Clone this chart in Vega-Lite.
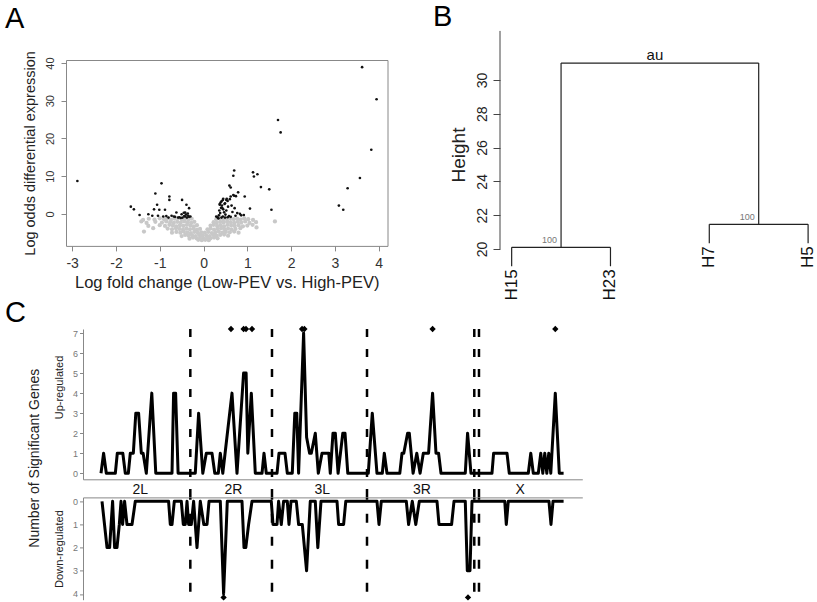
{
"$schema": "https://vega.github.io/schema/vega-lite/v6.json",
"autosize": {"type": "none"},
"padding": {"left": 66, "top": 60, "right": 751, "bottom": 542},
"background": "white",
"config": {"font": "Liberation Sans", "view": {"stroke": null}, "axis": {"grid": false, "titleFontWeight": "normal", "labelFont": "Liberation Sans", "titleFont": "Liberation Sans"}, "title": {"fontWeight": "normal", "font": "Liberation Sans", "color": "black"}},
"datasets": {
"gray": [
{"lfc":-1.38,"lod":-1.6},{"lfc":-1.25,"lod":-1.3},{"lfc":-1.12,"lod":-1.5},{"lfc":-1.0,"lod":-1.2},{"lfc":-0.9,"lod":-1.4},{"lfc":-0.82,"lod":-1.2},{"lfc":-0.74,"lod":-1.5},{"lfc":-0.66,"lod":-1.3},{"lfc":-0.58,"lod":-1.2},{"lfc":-0.5,"lod":-1.4},{"lfc":-0.42,"lod":-1.3},{"lfc":-0.34,"lod":-1.5},{"lfc":-0.27,"lod":-1.3},
{"lfc":0.29,"lod":-1.4},{"lfc":0.37,"lod":-1.2},{"lfc":0.45,"lod":-1.5},{"lfc":0.53,"lod":-1.3},{"lfc":0.61,"lod":-1.2},{"lfc":0.69,"lod":-1.4},{"lfc":0.77,"lod":-1.3},{"lfc":0.85,"lod":-1.5},{"lfc":0.93,"lod":-1.2},{"lfc":1.02,"lod":-1.4},{"lfc":1.13,"lod":-1.6},
{"lfc":-1.3,"lod":-2.4},{"lfc":-1.1,"lod":-2.1},{"lfc":-0.95,"lod":-2.3},{"lfc":-0.85,"lod":-2.0},{"lfc":-0.76,"lod":-2.2},{"lfc":-0.68,"lod":-2.4},{"lfc":-0.6,"lod":-2.1},{"lfc":-0.52,"lod":-2.3},{"lfc":-0.44,"lod":-2.0},{"lfc":-0.36,"lod":-2.2},{"lfc":-0.28,"lod":-2.4},{"lfc":-0.21,"lod":-2.1},
{"lfc":0.23,"lod":-2.2},{"lfc":0.3,"lod":-2.4},{"lfc":0.38,"lod":-2.1},{"lfc":0.46,"lod":-2.3},{"lfc":0.54,"lod":-2.0},{"lfc":0.62,"lod":-2.2},{"lfc":0.7,"lod":-2.4},{"lfc":0.78,"lod":-2.1},{"lfc":0.86,"lod":-2.3},{"lfc":0.95,"lod":-2.0},{"lfc":1.05,"lod":-2.4},{"lfc":1.2,"lod":-2.2},
{"lfc":-1.0,"lod":-3.0},{"lfc":-0.88,"lod":-3.2},{"lfc":-0.78,"lod":-2.9},{"lfc":-0.7,"lod":-3.1},{"lfc":-0.62,"lod":-3.3},{"lfc":-0.54,"lod":-3.0},{"lfc":-0.46,"lod":-3.2},{"lfc":-0.38,"lod":-2.9},{"lfc":-0.3,"lod":-3.1},{"lfc":-0.22,"lod":-3.3},{"lfc":-0.15,"lod":-3.0},
{"lfc":0.16,"lod":-3.1},{"lfc":0.23,"lod":-2.9},{"lfc":0.31,"lod":-3.2},{"lfc":0.39,"lod":-3.0},{"lfc":0.47,"lod":-3.3},{"lfc":0.55,"lod":-2.9},{"lfc":0.63,"lod":-3.1},{"lfc":0.71,"lod":-3.2},{"lfc":0.8,"lod":-3.0},{"lfc":0.9,"lod":-3.3},{"lfc":1.0,"lod":-3.1},
{"lfc":-0.82,"lod":-3.9},{"lfc":-0.72,"lod":-4.1},{"lfc":-0.63,"lod":-3.8},{"lfc":-0.55,"lod":-4.0},{"lfc":-0.47,"lod":-4.2},{"lfc":-0.39,"lod":-3.9},{"lfc":-0.31,"lod":-4.1},{"lfc":-0.23,"lod":-3.9},{"lfc":-0.15,"lod":-4.2},{"lfc":-0.08,"lod":-4.0},
{"lfc":0.09,"lod":-4.1},{"lfc":0.16,"lod":-3.9},{"lfc":0.24,"lod":-4.2},{"lfc":0.32,"lod":-4.0},{"lfc":0.4,"lod":-3.8},{"lfc":0.48,"lod":-4.1},{"lfc":0.56,"lod":-3.9},{"lfc":0.64,"lod":-4.2},{"lfc":0.73,"lod":-4.0},{"lfc":0.84,"lod":-3.8},
{"lfc":-0.72,"lod":-5.0},{"lfc":-0.62,"lod":-4.8},{"lfc":-0.53,"lod":-5.0},{"lfc":-0.45,"lod":-4.7},{"lfc":-0.37,"lod":-4.9},{"lfc":-0.29,"lod":-5.1},{"lfc":-0.21,"lod":-4.8},{"lfc":-0.13,"lod":-5.0},{"lfc":-0.05,"lod":-4.9},
{"lfc":0.03,"lod":-5.0},{"lfc":0.11,"lod":-4.8},{"lfc":0.19,"lod":-5.1},{"lfc":0.27,"lod":-4.9},{"lfc":0.35,"lod":-4.7},{"lfc":0.43,"lod":-5.0},{"lfc":0.51,"lod":-4.8},{"lfc":0.6,"lod":-4.9},{"lfc":0.7,"lod":-4.7},{"lfc":0.8,"lod":-5.0},
{"lfc":-0.5,"lod":-5.9},{"lfc":-0.42,"lod":-5.6},{"lfc":-0.34,"lod":-5.8},{"lfc":-0.26,"lod":-5.7},{"lfc":-0.18,"lod":-5.9},{"lfc":-0.1,"lod":-5.6},{"lfc":-0.02,"lod":-5.8},{"lfc":0.06,"lod":-5.7},{"lfc":0.14,"lod":-5.9},{"lfc":0.22,"lod":-5.6},{"lfc":0.3,"lod":-5.8},{"lfc":0.38,"lod":-5.6},{"lfc":0.47,"lod":-5.5},{"lfc":0.56,"lod":-5.8},
{"lfc":-0.32,"lod":-6.6},{"lfc":-0.24,"lod":-6.3},{"lfc":-0.16,"lod":-6.5},{"lfc":-0.08,"lod":-6.4},{"lfc":0.0,"lod":-6.6},{"lfc":0.08,"lod":-6.4},{"lfc":0.16,"lod":-6.5},{"lfc":0.24,"lod":-6.3},{"lfc":0.32,"lod":-6.5},
{"lfc":-0.12,"lod":-6.9},{"lfc":-0.04,"lod":-7.0},{"lfc":0.04,"lod":-6.9},{"lfc":0.12,"lod":-7.0},
{"lfc":-1.42,"lod":-2.0},{"lfc":-1.36,"lod":-4.7},{"lfc":-1.26,"lod":-3.2},{"lfc":-1.15,"lod":-3.8},{"lfc":1.21,"lod":-3.6},{"lfc":1.63,"lod":-2.0},{"lfc":1.12,"lod":-2.9}
],
"black": [
{"lfc":-2.88,"lod":8.7},{"lfc":3.62,"lod":38.9},{"lfc":3.95,"lod":30.4},{"lfc":1.70,"lod":24.9},{"lfc":1.76,"lod":21.6},{"lfc":3.83,"lod":17.0},{"lfc":3.57,"lod":9.5},{"lfc":3.29,"lod":6.8},{"lfc":3.09,"lod":2.2},{"lfc":3.19,"lod":1.1},{"lfc":1.13,"lod":11.0},{"lfc":1.23,"lod":10.5},{"lfc":1.15,"lod":9.9},{"lfc":1.31,"lod":7.1},{"lfc":1.50,"lod":6.5},{"lfc":1.55,"lod":1.1},{"lfc":0.70,"lod":11.5},{"lfc":0.68,"lod":10.1},{"lfc":0.59,"lod":7.5},{"lfc":0.62,"lod":7.0},{"lfc":0.94,"lod":4.6},{"lfc":0.79,"lod":5.7},{"lfc":0.68,"lod":5.0},{"lfc":0.62,"lod":4.6},{"lfc":0.45,"lod":4.0},{"lfc":0.41,"lod":3.3},{"lfc":0.52,"lod":3.7},{"lfc":0.37,"lod":2.4},{"lfc":0.49,"lod":2.8},{"lfc":0.43,"lod":1.5},{"lfc":0.71,"lod":1.5},{"lfc":0.77,"lod":0.2},{"lfc":0.83,"lod":0.0},{"lfc":1.06,"lod":1.4},{"lfc":0.92,"lod":-0.3},{"lfc":0.29,"lod":-0.7},{"lfc":0.33,"lod":-1.1},
{"lfc":-0.96,"lod":8.1},{"lfc":-1.10,"lod":5.4},{"lfc":-1.06,"lod":2.4},{"lfc":-0.78,"lod":4.6},{"lfc":-0.78,"lod":3.7},{"lfc":-0.49,"lod":3.7},{"lfc":-0.39,"lod":2.4},{"lfc":-0.33,"lod":1.5},{"lfc":-0.62,"lod":0.35},{"lfc":-1.13,"lod":1.2},{"lfc":-1.01,"lod":1.1},{"lfc":-0.88,"lod":1.1},{"lfc":-1.26,"lod":-0.1},{"lfc":-1.66,"lod":1.9},{"lfc":-1.59,"lod":1.2},{"lfc":-1.46,"lod":-0.3},{"lfc":-1.17,"lod":-0.5},{"lfc":-1.04,"lod":-0.5},{"lfc":-0.92,"lod":-0.7},{"lfc":-0.73,"lod":-0.5},{"lfc":-0.68,"lod":-0.7},{"lfc":-0.50,"lod":-0.1},{"lfc":-0.42,"lod":0.35},{"lfc":-0.42,"lod":-0.7},{"lfc":-0.35,"lod":-0.5},{"lfc":-0.30,"lod":-0.7},{"lfc":-0.55,"lod":-0.9},
{"lfc":0.32,"lod":-0.9},{"lfc":0.35,"lod":-0.4},{"lfc":0.38,"lod":0.2},{"lfc":0.36,"lod":0.9},{"lfc":0.40,"lod":1.6},{"lfc":0.42,"lod":2.2},{"lfc":0.39,"lod":3.0},{"lfc":0.44,"lod":-0.7},{"lfc":0.47,"lod":0.4},{"lfc":0.45,"lod":1.2},{"lfc":0.50,"lod":-0.2},{"lfc":0.52,"lod":0.9},{"lfc":0.48,"lod":2.6},{"lfc":0.55,"lod":3.4},{"lfc":0.56,"lod":1.9},{"lfc":0.58,"lod":-0.6},{"lfc":0.60,"lod":3.9},{"lfc":0.34,"lod":-1.2},{"lfc":0.41,"lod":-1.0},{"lfc":0.49,"lod":-1.0},{"lfc":0.55,"lod":-0.9},{"lfc":0.62,"lod":-0.8},{"lfc":0.37,"lod":2.6},{"lfc":0.44,"lod":3.7},{"lfc":0.53,"lod":4.0},{"lfc":0.64,"lod":2.2},{"lfc":0.66,"lod":0.5},{"lfc":0.73,"lod":-0.5},{"lfc":0.86,"lod":-0.4},{"lfc":0.70,"lod":4.8},{"lfc":0.74,"lod":4.7},
{"lfc":-0.48,"lod":-1.0},{"lfc":-0.44,"lod":-0.6},{"lfc":-0.40,"lod":-0.2},{"lfc":-0.38,"lod":-1.0},{"lfc":-0.33,"lod":-0.8},{"lfc":-0.36,"lod":0.1},{"lfc":-0.45,"lod":0.3},{"lfc":-0.52,"lod":-1.1},{"lfc":-0.58,"lod":-1.0},{"lfc":-0.65,"lod":-0.8},{"lfc":-0.80,"lod":-1.0},{"lfc":-0.85,"lod":-0.6}
],
"dendro": [
{"x":1,"x2":1,"y":18.98,"y2":20.1},{"x":2,"x2":2,"y":18.98,"y2":20.1},{"x":1,"x2":2,"y":20.1,"y2":20.1},{"x":1.5,"x2":1.5,"y":20.1,"y2":31.0},
{"x":3,"x2":3,"y":20.34,"y2":21.46},{"x":4,"x2":4,"y":20.34,"y2":21.46},{"x":3,"x2":4,"y":21.46,"y2":21.46},{"x":3.5,"x2":3.5,"y":21.46,"y2":31.0},
{"x":1.5,"x2":3.5,"y":31.0,"y2":31.0}
],
"leaves": [{"leaf":"H15","x":1,"y":18.98},{"leaf":"H23","x":2,"y":18.98},{"leaf":"H7","x":3,"y":20.34},{"leaf":"H5","x":4,"y":20.34}],
"au": [{"x":1.5,"y":20.1,"t":"100"},{"x":3.5,"y":21.46,"t":"100"}],
"up": [
{"pos":0.18,"n":0},{"pos":0.85,"n":1},{"pos":1.55,"n":0},{"pos":3.87,"n":0},{"pos":4.38,"n":1},{"pos":5.80,"n":1},{"pos":6.44,"n":0},{"pos":7.22,"n":0},{"pos":7.73,"n":1},{"pos":8.51,"n":1},{"pos":9.15,"n":3},{"pos":9.87,"n":3},{"pos":10.57,"n":1},{"pos":11.03,"n":1},{"pos":11.86,"n":0},{"pos":13.27,"n":4},{"pos":14.30,"n":0},{"pos":18.48,"n":0},{"pos":18.89,"n":4},{"pos":19.41,"n":4},{"pos":20.05,"n":0},{"pos":24.48,"n":0},{"pos":25.34,"n":3},{"pos":26.42,"n":0},{"pos":27.32,"n":1},{"pos":28.79,"n":1},{"pos":29.51,"n":0},{"pos":30.41,"n":0},{"pos":30.93,"n":1},{"pos":31.57,"n":0},{"pos":33.94,"n":4},{"pos":35.23,"n":0},{"pos":36.93,"n":5},{"pos":37.58,"n":5},{"pos":38.02,"n":1},{"pos":38.92,"n":4},{"pos":39.95,"n":0},{"pos":41.68,"n":0},{"pos":42.19,"n":1},{"pos":42.78,"n":0},{"pos":45.54,"n":0},{"pos":46.06,"n":1},{"pos":47.60,"n":1},{"pos":48.20,"n":0},{"pos":49.48,"n":0},{"pos":50.13,"n":3},{"pos":50.64,"n":3},{"pos":51.11,"n":0},{"pos":52.40,"n":7},{"pos":53.17,"n":1.8},{"pos":53.94,"n":1},{"pos":54.38,"n":1},{"pos":55.41,"n":2},{"pos":56.19,"n":0},{"pos":57.14,"n":1},{"pos":58.89,"n":1},{"pos":59.28,"n":0},{"pos":59.97,"n":2},{"pos":60.57,"n":2},{"pos":61.29,"n":0},{"pos":62.50,"n":2},{"pos":63.07,"n":2},{"pos":63.79,"n":0},{"pos":69.07,"n":0},{"pos":70.10,"n":3},{"pos":71.31,"n":0},{"pos":72.68,"n":0},{"pos":73.20,"n":1},{"pos":73.89,"n":0},{"pos":77.19,"n":0},{"pos":77.76,"n":1},{"pos":78.22,"n":1},{"pos":79.20,"n":2},{"pos":79.64,"n":2},{"pos":80.62,"n":0},{"pos":81.57,"n":1},{"pos":82.42,"n":0},{"pos":83.25,"n":1},{"pos":84.61,"n":1},{"pos":85.64,"n":4},{"pos":86.52,"n":1},{"pos":87.19,"n":1},{"pos":87.81,"n":0},{"pos":94.07,"n":0},{"pos":94.66,"n":2},{"pos":95.54,"n":0},{"pos":100.95,"n":0},{"pos":101.37,"n":1},{"pos":104.82,"n":1},{"pos":105.41,"n":0},{"pos":110.31,"n":0},{"pos":110.95,"n":1},{"pos":111.60,"n":0},{"pos":112.89,"n":0},{"pos":113.53,"n":1},{"pos":114.05,"n":0},{"pos":114.56,"n":1},{"pos":115.08,"n":0},{"pos":115.59,"n":1},{"pos":116.11,"n":0},{"pos":117.27,"n":4},{"pos":118.30,"n":0},{"pos":119.41,"n":0}
],
"down": [
{"pos":0.44,"n":0},{"pos":1.73,"n":2},{"pos":2.40,"n":2},{"pos":3.17,"n":0},{"pos":3.69,"n":2},{"pos":4.30,"n":2},{"pos":4.90,"n":1},{"pos":5.34,"n":0},{"pos":5.75,"n":1},{"pos":6.26,"n":0},{"pos":6.88,"n":1},{"pos":8.17,"n":1},{"pos":9.02,"n":0},{"pos":17.60,"n":0},{"pos":18.04,"n":1},{"pos":18.48,"n":1},{"pos":19.07,"n":0},{"pos":20.88,"n":0},{"pos":21.39,"n":1},{"pos":21.91,"n":1},{"pos":22.35,"n":0},{"pos":22.76,"n":1},{"pos":23.45,"n":1},{"pos":24.05,"n":0},{"pos":24.92,"n":2},{"pos":25.77,"n":0},{"pos":26.68,"n":1},{"pos":27.50,"n":1},{"pos":28.02,"n":0},{"pos":30.93,"n":0},{"pos":31.78,"n":4},{"pos":32.73,"n":0},{"pos":36.52,"n":0},{"pos":37.04,"n":2},{"pos":37.50,"n":2},{"pos":38.22,"n":1},{"pos":39.10,"n":0},{"pos":44.07,"n":0},{"pos":44.51,"n":1},{"pos":45.54,"n":1},{"pos":45.95,"n":0},{"pos":46.65,"n":1},{"pos":47.24,"n":0},{"pos":48.20,"n":0},{"pos":48.63,"n":1},{"pos":49.15,"n":0},{"pos":50.52,"n":0},{"pos":51.11,"n":1},{"pos":52.06,"n":1},{"pos":53.17,"n":3},{"pos":54.12,"n":0},{"pos":55.41,"n":0},{"pos":56.06,"n":2},{"pos":56.88,"n":0},{"pos":61.01,"n":0},{"pos":61.42,"n":1},{"pos":62.71,"n":1},{"pos":63.27,"n":0},{"pos":71.31,"n":0},{"pos":71.83,"n":1},{"pos":72.42,"n":0},{"pos":78.87,"n":0},{"pos":79.46,"n":1},{"pos":80.41,"n":0},{"pos":81.31,"n":1},{"pos":82.22,"n":0},{"pos":86.78,"n":0},{"pos":87.29,"n":1},{"pos":90.54,"n":1},{"pos":91.16,"n":0},{"pos":94.07,"n":0},{"pos":94.59,"n":3},{"pos":95.28,"n":3},{"pos":95.80,"n":0},{"pos":104.25,"n":0},{"pos":104.64,"n":1},{"pos":105.15,"n":0},{"pos":115.64,"n":0},{"pos":116.16,"n":1},{"pos":116.68,"n":0},{"pos":119.41,"n":0}
],
"upmarks": [{"pos":33.68},{"pos":36.93},{"pos":37.55},{"pos":39.1},{"pos":52.0},{"pos":52.6},{"pos":85.64},{"pos":117.27}],
"downmarks": [{"pos":31.78},{"pos":94.77}],
"bounds": [{"pos":23.2},{"pos":44.25},{"pos":68.74},{"pos":96.39},{"pos":97.6}],
"chrom": [{"pos":10.3,"arm":"2L"},{"pos":34.3,"arm":"2R"},{"pos":57.2,"arm":"3L"},{"pos":82.9,"arm":"3R"},{"pos":108.2,"arm":"X"}]
},
"bounds": "flush",
"spacing": 269,
"vconcat": [
{"hconcat": [
 {"width": 321.5, "height": 185.9, "view": {"stroke": "#888", "strokeWidth": 1},
  "title": {"text": "A", "anchor": "start", "frame": "group", "fontSize": 29, "dx": -61, "offset": 0, "dy": 6, "baseline": "alphabetic"},
  "layer": [
   {"data": {"name": "gray"}, "mark": {"type": "point", "filled": true, "size": 18, "color": "#c8c8c8", "opacity": 1},
    "encoding": {
     "x": {"field": "lfc", "type": "quantitative", "scale": {"domain": [-3.14, 4.2], "nice": false, "zero": false},
       "axis": {"values": [-3,-2,-1,0,1,2,3,4], "domain": false, "tickSize": 5, "tickColor": "#888", "labelFontSize": 14, "labelColor": "#333", "labelPadding": 6, "labelExpr": "'' + datum.value", "title": "Log fold change (Low-PEV vs. High-PEV)", "titleFontSize": 16.5, "titleColor": "#222", "titlePadding": 4}},
     "y": {"field": "lod", "type": "quantitative", "scale": {"domain": [-8.5, 40.8], "nice": false, "zero": false},
       "axis": {"values": [0,10,20,30,40], "domain": false, "tickSize": 5, "tickColor": "#888", "labelAngle": -90, "labelAlign": "center", "labelBaseline": "bottom", "labelFontSize": 11, "labelColor": "#333", "labelPadding": 6, "title": "Log odds differential expression", "titleFontSize": 14.5, "titleColor": "#222", "titlePadding": 7}}
    }},
   {"data": {"name": "black"}, "mark": {"type": "point", "filled": true, "size": 7, "color": "#111", "opacity": 1},
    "encoding": {
     "x": {"field": "lfc", "type": "quantitative", "scale": {"domain": [-3.14, 4.2], "nice": false, "zero": false},
       "axis": {"values": [-3,-2,-1,0,1,2,3,4], "domain": false, "tickSize": 5, "tickColor": "#888", "labelFontSize": 14, "labelColor": "#333", "labelPadding": 6, "labelExpr": "'' + datum.value", "title": "Log fold change (Low-PEV vs. High-PEV)", "titleFontSize": 16.5, "titleColor": "#222", "titlePadding": 4}},
     "y": {"field": "lod", "type": "quantitative", "scale": {"domain": [-8.5, 40.8], "nice": false, "zero": false},
       "axis": {"values": [0,10,20,30,40], "domain": false, "tickSize": 5, "tickColor": "#888", "labelAngle": -90, "labelAlign": "center", "labelBaseline": "bottom", "labelFontSize": 11, "labelColor": "#333", "labelPadding": 6, "title": "Log odds differential expression", "titleFontSize": 14.5, "titleColor": "#222", "titlePadding": 7}}
    }}
  ]},
 {"width": 316.7, "height": 189,
  "title": {"text": "B", "anchor": "start", "frame": "group", "fontSize": 29, "dx": -67, "offset": 0, "dy": 25, "baseline": "alphabetic"},
  "encoding": {
   "x": {"field": "x", "type": "quantitative", "scale": {"domain": [0.882, 4.087], "nice": false, "zero": false}, "axis": null},
   "y": {"field": "y", "type": "quantitative", "scale": {"domain": [20, 31.18], "nice": false, "zero": false},
     "axis": {"values": [20,22,24,26,28,30], "domain": false, "tickSize": 7, "tickColor": "#444", "labelAngle": -90, "labelAlign": "center", "labelBaseline": "bottom", "labelFontSize": 14, "labelColor": "#222", "labelPadding": 4, "title": "Height", "titleFontSize": 19, "titleColor": "#222", "titlePadding": 7}}
  },
  "layer": [
   {"data": {"values": [{"x": 0.882, "y": 20, "y2": 32.9}]}, "mark": {"type": "rule", "color": "#444", "strokeWidth": 1},
    "encoding": {"y2": {"field": "y2"}}},
   {"data": {"name": "dendro"}, "mark": {"type": "rule", "color": "#222", "strokeWidth": 1.2},
    "encoding": {"x2": {"field": "x2"}, "y2": {"field": "y2"}}},
   {"data": {"name": "leaves"}, "mark": {"type": "text", "angle": 270, "align": "right", "baseline": "middle", "dx": -3, "fontSize": 17, "color": "#111"},
    "encoding": {"text": {"field": "leaf"}}},
   {"data": {"name": "au"}, "mark": {"type": "text", "align": "right", "baseline": "alphabetic", "dx": -4, "dy": -4, "fontSize": 9, "color": "#777"},
    "encoding": {"text": {"field": "t"}}},
   {"data": {"values": [{"x": 2.45, "y": 31.0, "t": "au"}]}, "mark": {"type": "text", "align": "center", "baseline": "alphabetic", "dy": -3, "fontSize": 15, "color": "#111"},
    "encoding": {"text": {"field": "t"}}}
  ]}
 ], "spacing": 112, "bounds": "flush"},
{"hconcat": [
 {"width": 16.7, "height": 270.4, "data": {"values": []}, "mark": "point",
  "title": {"text": "Number of Significant Genes", "orient": "left", "anchor": "middle", "frame": "group", "fontSize": 14, "color": "#222", "offset": 13, "baseline": "alphabetic", "dx": 6}},
 {"vconcat": [
  {"width": 499.3, "height": 150.3,
   "title": {"text": "C", "anchor": "start", "frame": "group", "fontSize": 29, "dx": -78, "offset": 0, "dy": 25, "baseline": "alphabetic"},
   "encoding": {
    "x": {"field": "pos", "type": "quantitative", "scale": {"domain": [-4.46, 124.23], "nice": false, "zero": false},
      "axis": {"orient": "bottom", "domain": true, "domainColor": "#888", "ticks": false, "labels": false, "title": null}}
   },
   "layer": [
    {"data": {"name": "bounds"}, "mark": {"type": "rule", "color": "black", "strokeWidth": 2.5, "strokeDash": [8, 12]},
     "encoding": {
      "y": {"datum": 7.2, "type": "quantitative", "scale": {"domain": [-0.3, 7.2], "nice": false, "zero": false},
        "axis": {"values": [0,1,2,3,4,5,6,7], "domainColor": "#888", "tickSize": 3.5, "tickColor": "#888", "labelFontSize": 9, "labelColor": "#777", "labelPadding": 2, "title": "Up-regulated", "titleFontSize": 11, "titleColor": "#222", "titlePadding": 8, "titleY": 58}},
      "y2": {"datum": -1.2}
     }},
    {"data": {"name": "up"}, "mark": {"type": "line", "color": "black", "strokeWidth": 3, "strokeJoin": "round"},
     "encoding": {
      "y": {"field": "n", "type": "quantitative", "scale": {"domain": [-0.3, 7.2], "nice": false, "zero": false},
        "axis": {"values": [0,1,2,3,4,5,6,7], "domainColor": "#888", "tickSize": 3.5, "tickColor": "#888", "labelFontSize": 9, "labelColor": "#777", "labelPadding": 2, "title": "Up-regulated", "titleFontSize": 11, "titleColor": "#222", "titlePadding": 8, "titleY": 58}}
     }},
    {"data": {"name": "upmarks"}, "mark": {"type": "point", "shape": "diamond", "filled": true, "size": 40, "color": "black", "opacity": 1},
     "encoding": {
      "y": {"datum": 7.2, "type": "quantitative", "scale": {"domain": [-0.3, 7.2], "nice": false, "zero": false},
        "axis": {"values": [0,1,2,3,4,5,6,7], "domainColor": "#888", "tickSize": 3.5, "tickColor": "#888", "labelFontSize": 9, "labelColor": "#777", "labelPadding": 2, "title": "Up-regulated", "titleFontSize": 11, "titleColor": "#222", "titlePadding": 8, "titleY": 58}}
     }},
    {"data": {"name": "chrom"}, "mark": {"type": "text", "fontSize": 14, "baseline": "middle", "align": "center", "color": "#111"},
     "encoding": {
      "y": {"datum": -0.85, "type": "quantitative", "scale": {"domain": [-0.3, 7.2], "nice": false, "zero": false},
        "axis": {"values": [0,1,2,3,4,5,6,7], "domainColor": "#888", "tickSize": 3.5, "tickColor": "#888", "labelFontSize": 9, "labelColor": "#777", "labelPadding": 2, "title": "Up-regulated", "titleFontSize": 11, "titleColor": "#222", "titlePadding": 8, "titleY": 58}},
      "text": {"field": "arm"}
     }}
   ]},
  {"width": 499.3, "height": 102.3,
   "encoding": {
    "x": {"field": "pos", "type": "quantitative", "scale": {"domain": [-4.46, 124.23], "nice": false, "zero": false},
      "axis": {"orient": "top", "domain": true, "domainColor": "#888", "ticks": false, "labels": false, "title": null}}
   },
   "layer": [
    {"data": {"name": "bounds"}, "mark": {"type": "rule", "color": "black", "strokeWidth": 2.5, "strokeDash": [9, 14], "strokeDashOffset": 6.7},
     "encoding": {
      "y": {"datum": -0.17, "type": "quantitative", "scale": {"domain": [-0.17, 4.25], "nice": false, "zero": false, "reverse": true},
        "axis": {"values": [0,1,2,3,4], "domainColor": "#888", "tickSize": 3.5, "tickColor": "#888", "labelFontSize": 9, "labelColor": "#777", "labelPadding": 2, "title": "Down-regulated", "titleFontSize": 11, "titleColor": "#222", "titlePadding": 8}},
      "y2": {"datum": 4.25}
     }},
    {"data": {"name": "down"}, "mark": {"type": "line", "color": "black", "strokeWidth": 3, "strokeJoin": "round"},
     "encoding": {
      "y": {"field": "n", "type": "quantitative", "scale": {"domain": [-0.17, 4.25], "nice": false, "zero": false, "reverse": true},
        "axis": {"values": [0,1,2,3,4], "domainColor": "#888", "tickSize": 3.5, "tickColor": "#888", "labelFontSize": 9, "labelColor": "#777", "labelPadding": 2, "title": "Down-regulated", "titleFontSize": 11, "titleColor": "#222", "titlePadding": 8}}
     }},
    {"data": {"name": "downmarks"}, "mark": {"type": "point", "shape": "diamond", "filled": true, "size": 40, "color": "black", "opacity": 1},
     "encoding": {
      "y": {"datum": 4.15, "type": "quantitative", "scale": {"domain": [-0.17, 4.25], "nice": false, "zero": false, "reverse": true},
        "axis": {"values": [0,1,2,3,4], "domainColor": "#888", "tickSize": 3.5, "tickColor": "#888", "labelFontSize": 9, "labelColor": "#777", "labelPadding": 2, "title": "Down-regulated", "titleFontSize": 11, "titleColor": "#222", "titlePadding": 8}}
     }}
   ]}
 ], "spacing": 17.4, "bounds": "flush"}
], "spacing": 0, "bounds": "flush"}
]
}
